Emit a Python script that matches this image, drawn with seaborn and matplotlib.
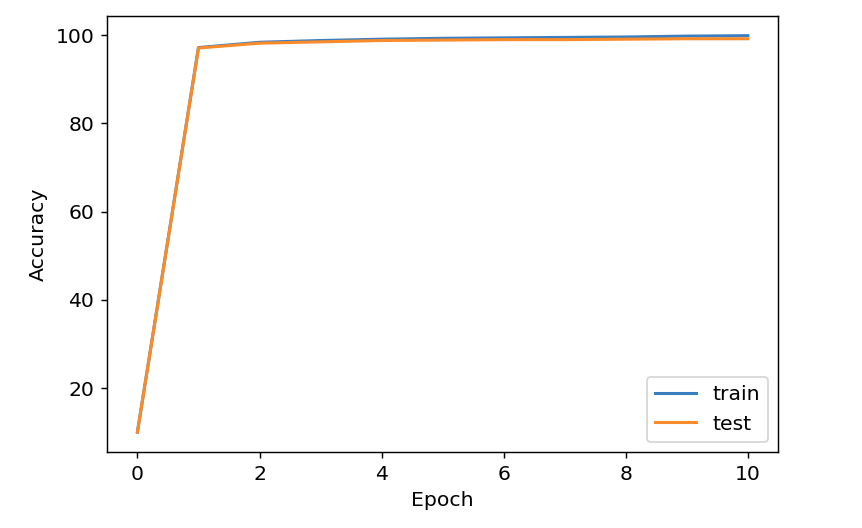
import matplotlib
matplotlib.use("Agg")
import matplotlib.pyplot as plt
import seaborn as sns
import pandas as pd

# accuracy per epoch
epochs = [0, 1, 2, 3, 4, 5, 6, 7, 8, 9, 10]
train_acc = [10.0, 97.2, 98.4, 98.8, 99.1, 99.3, 99.4, 99.5, 99.6, 99.8, 99.9]
test_acc = [10.0, 97.1, 98.2, 98.5, 98.8, 98.9, 99.0, 99.0, 99.1, 99.2, 99.2]

df = pd.DataFrame({"Epoch": epochs, "train": train_acc, "test": test_acc})

plt.rcParams["font.size"] = 11.3

dpi = 130
fig, ax = plt.subplots(figsize=(862 / dpi, 528 / dpi), dpi=dpi)
fig.subplots_adjust(left=0.124, right=0.903, top=0.970, bottom=0.144)

sns.lineplot(data=df, x="Epoch", y="train", label="train", color="#3b7fc0", linewidth=1.7, ax=ax)
sns.lineplot(data=df, x="Epoch", y="test", label="test", color="#f98b2a", linewidth=1.7, ax=ax)

ax.set_xlabel("Epoch")
ax.set_ylabel("Accuracy")
ax.set_xticks([0, 2, 4, 6, 8, 10])
ax.set_yticks([20, 40, 60, 80, 100])
ax.legend(loc="lower right")

fig.savefig("out.png", dpi=dpi)
